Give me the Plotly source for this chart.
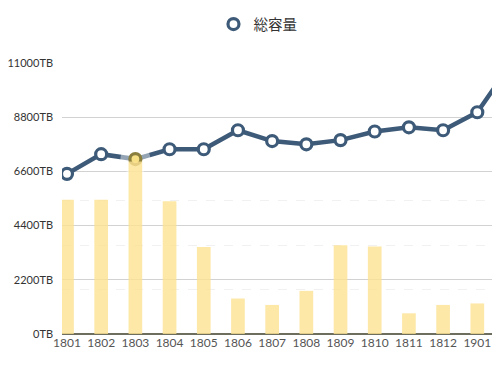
import plotly.graph_objects as go

categories = ["1801", "1802", "1803", "1804", "1805", "1806", "1807",
              "1808", "1809", "1810", "1811", "1812", "1901", "1902"]
total_tb = [6500, 7300, 7100, 7500, 7500, 8270, 7830,
            7700, 7870, 8220, 8390, 8270, 9000, 11000]
bar_tb = [5450, 5450, 7000, 5390, 3530, 1440, 1180,
          1750, 3600, 3550, 840, 1180, 1240, None]
y_ticks = [0, 2200, 4400, 6600, 8800, 11000]
y_tick_labels = [f"{v}TB" for v in y_ticks]
minor_grid = [1800, 3600, 5400]
highlight = 2

line_color = "#3d5a78"
font_family = "Lato, Noto Sans CJK JP, sans-serif"

fig = go.Figure()

fig.add_trace(go.Bar(
    x=categories, y=bar_tb, yaxis="y2",
    width=0.4, marker=dict(color="#fde393", line=dict(width=0)),
    opacity=0.8, showlegend=False, hoverinfo="skip",
))

fig.add_trace(go.Scatter(
    x=categories, y=total_tb, mode="lines",
    line=dict(color=line_color, width=4.5),
    showlegend=False, hoverinfo="skip",
))

fig.add_trace(go.Scatter(
    x=[categories[highlight]], y=[total_tb[highlight]], mode="markers",
    marker=dict(size=30, color="rgba(255,255,255,0.45)", line=dict(width=0)),
    showlegend=False, hoverinfo="skip",
))

fill_colors = ["#ffffff"] * len(categories)
edge_colors = [line_color] * len(categories)
fill_colors[highlight] = "#f7df85"
edge_colors[highlight] = "#8a7f3e"

fig.add_trace(go.Scatter(
    x=categories, y=total_tb, mode="markers", name="総容量",
    marker=dict(size=11, color=fill_colors,
                line=dict(color=edge_colors, width=3.2)),
))

fig.update_layout(
    width=484, height=350,
    margin=dict(l=54, r=0, t=55, b=24, autoexpand=False),
    paper_bgcolor="white", plot_bgcolor="white",
    font=dict(family=font_family, size=11, color="#333333"),
    legend=dict(orientation="h", xref="container", yref="container",
                x=0.5165, y=0.954, xanchor="center", yanchor="middle",
                font=dict(size=14.5, color="#333333")),
    bargap=0.6,
    xaxis=dict(type="category", range=[-0.146, 12.43], automargin=False,
               showgrid=False, zeroline=False, showline=False,
               ticks="", tickfont=dict(size=12, color="#555555")),
    yaxis=dict(range=[0, 11000], tickmode="array", tickvals=y_ticks,
               ticktext=y_tick_labels, automargin=False,
               showgrid=True, gridcolor="#d2d2d2", gridwidth=1,
               zeroline=True, zerolinecolor="#6e6e5e", zerolinewidth=1.5,
               showline=False, ticks="", ticklabelstandoff=8,
               tickfont=dict(size=11, color="#333333")),
    yaxis2=dict(range=[0, 11000], overlaying="y", side="left",
                tickvals=minor_grid, showticklabels=False, automargin=False,
                showgrid=True, gridcolor="#f1f1f1", griddash="dash",
                zeroline=False, showline=False, ticks=""),
)

fig.write_html("out.html")
